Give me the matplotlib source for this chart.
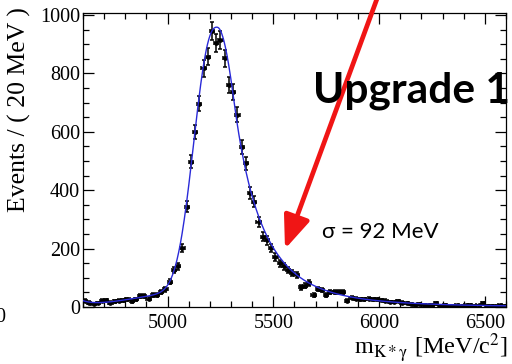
import numpy as np
import matplotlib
matplotlib.use("Agg")
import matplotlib.pyplot as plt
from matplotlib.ticker import MultipleLocator

# K* gamma invariant mass, 20 MeV bins from 4600 to 6600
bin_lo, bin_hi, bin_w = 4600, 6600, 20
counts = [
    22, 15, 11, 14, 22, 23, 15, 19, 22, 23, 26, 19, 26, 37, 37, 28, 42, 40, 51, 60,
    87, 127, 140, 201, 343, 498, 600, 697, 817, 857, 945, 905, 914, 852, 760, 737, 658, 549, 492, 391,
    361, 292, 241, 229, 201, 172, 150, 140, 127, 117, 110, 68, 73, 82, 42, 62, 58, 40, 52, 52,
    52, 52, 22, 32, 28, 27, 27, 28, 27, 27, 24, 22, 18, 16, 20, 15, 14, 10, 8, 10,
    7, 6, 8, 12, 5, 7, 5, 5, 6, 5, 6, 7, 5, 6, 14, 5, 5, 5, 6, 5,
]

# fit parameters: asymmetric signal peak with a power-law high-mass tail,
# plus a broad low-mass background and a small edge component
mu, peak = 5235.0, 915.0
s_left, p_left = 105.0, 2.4
s_right, alpha, n_cb = 100.0, 0.8, 4.0
bkg_amp, bkg_mu, bkg_sigma = 50.0, 5100.0, 250.0
edge_amp, edge_tau = 15.0, 50.0


def fit_model(m):
    d = m - mu
    left = np.exp(-0.5 * np.abs(d / s_left) ** p_left)
    t = d / s_right
    core = np.exp(-0.5 * t ** 2)
    A = (n_cb / alpha) ** n_cb * np.exp(-0.5 * alpha ** 2)
    B = n_cb / alpha - alpha
    tail = A * np.maximum(B + t, 1e-6) ** (-n_cb)
    right = np.where(t < alpha, core, tail)
    sig = peak * np.where(d < 0, left, right)
    bkg = bkg_amp * np.exp(-0.5 * ((m - bkg_mu) / bkg_sigma) ** 2)
    bkg += edge_amp * np.exp(-(m - bin_lo) / edge_tau)
    return sig + bkg


counts = np.array(counts, dtype=float)
centers = np.arange(bin_lo + bin_w / 2, bin_hi, bin_w)

plt.rcParams["mathtext.fontset"] = "stix"
serif = "Liberation Serif"

fig = plt.figure(figsize=(5.12, 3.64), dpi=100)
ax = fig.add_axes([83 / 512, 1 - 307 / 364, 423 / 512, 294 / 364])

ax.errorbar(centers, counts, xerr=bin_w / 2, yerr=np.sqrt(counts),
            fmt="o", ms=2.4, color="black", ecolor="black",
            elinewidth=1.1, capsize=1.4, capthick=1.1, zorder=3)

mm = np.linspace(bin_lo, bin_hi, 1000)
ax.plot(mm, fit_model(mm), color="#2a2ad8", lw=1.0, zorder=4)

ax.set_xlim(bin_lo, bin_hi)
ax.set_ylim(0, 1007)
ax.xaxis.set_major_locator(MultipleLocator(500))
ax.xaxis.set_minor_locator(MultipleLocator(100))
ax.yaxis.set_major_locator(MultipleLocator(200))
ax.yaxis.set_minor_locator(MultipleLocator(50))
ax.tick_params(which="both", direction="in", top=True, right=True, width=0.9)
ax.tick_params(which="major", length=8)
ax.tick_params(which="minor", length=4)
ax.tick_params(axis="x", pad=5)
ax.tick_params(axis="y", pad=2)
for lab in ax.get_xticklabels() + ax.get_yticklabels():
    lab.set_fontfamily(serif)
    lab.set_fontsize(14.5)
for sp in ax.spines.values():
    sp.set_linewidth(0.9)

ax.set_ylabel("Events / ( 20 MeV )", fontfamily=serif, fontsize=18.5, loc="top")
ax.yaxis.set_label_coords(-0.122, 1.02)
ax.set_xlabel(r"m$_{\mathrm{K*\gamma}}$ [MeV/c$^{2}$]", fontfamily=serif,
              fontsize=17.5, loc="right")
ax.xaxis.set_label_coords(1.005, -0.085)

# leftover tick label from the neighbouring panel
fig.text(0.0, 1 - 318 / 364, "0", fontfamily=serif, fontsize=14.5,
         ha="center", va="center")

fig.text(313 / 512, 1 - 103 / 364, "Upgrade 1", fontfamily="Lato",
         fontweight="bold", fontsize=30.5, ha="left", va="baseline")
fig.text(322 / 512, 1 - 238 / 364, "σ = 92 MeV", fontfamily="Lato",
         fontsize=16, ha="left", va="baseline")

ax.annotate("", xy=(285, 364 - 249), xytext=(378, 368),
            xycoords="figure pixels", textcoords="figure pixels",
            arrowprops=dict(arrowstyle="-|>,head_length=1.0,head_width=0.4",
                            color="#f01515", lw=3.4, shrinkA=0, shrinkB=0,
                            mutation_scale=20))

fig.savefig("out.png", dpi=100)
